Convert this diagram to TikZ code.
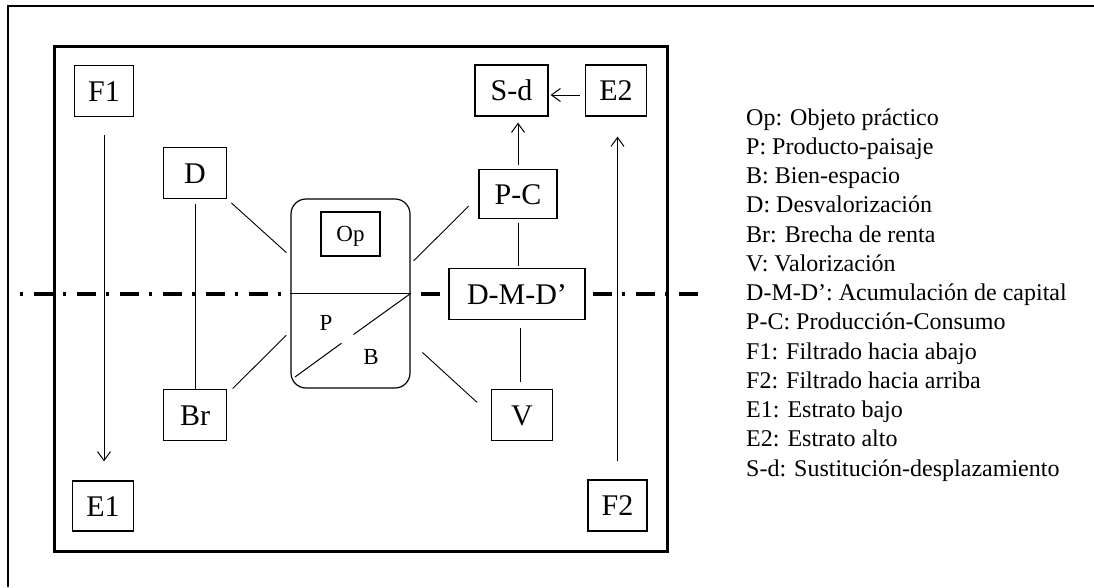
\documentclass[tikz,border=0pt]{standalone}
\usepackage{fontspec}
\setmainfont{Liberation Serif}
\usetikzlibrary{arrows.meta,calc}
\begin{document}
\begin{tikzpicture}[x=1pt,y=-1pt,
  boxline/.style={draw,line width=1.2pt,fill=white,inner sep=0pt},
  big/.style={boxline,text height=20pt,text depth=0pt,font=\fontsize{30}{30}\selectfont},
  smalltxt/.style={inner sep=0pt,text height=15pt,text depth=0pt,font=\fontsize{23}{23}\selectfont},
  conn/.style={line width=1pt},
  arr/.style={conn,-{Straight Barb[length=9pt,width=13pt,line width=1pt]}},
  diag/.style={line width=0.9pt},
  legend/.style={anchor=base west,inner sep=0pt,font=\fontsize{24}{24}\selectfont},
  frame/.style={line width=3pt},
  axis/.style={line width=4pt,dash pattern=on 3pt off 11pt on 19pt off 10pt}
]
\useasboundingbox (0,0) rectangle (1094,587);
\fill[white] (0,0) rectangle (1094,587);
% outer frame (extends beyond the picture)
\draw[line width=2pt] (8,587) -- (8,6) -- (1094,6);
% inner frame
\draw[frame] (54,46) rectangle (667,551);
% dash-dot axis
\coordinate (axL) at (20,293.5);
\coordinate (axR) at (698,293.5);
\draw[axis] (axL) -- (axR);

% nodes
\node[big,minimum width=59pt,minimum height=51pt] (F1) at (104,91) {F1};
\node[big,minimum width=61pt,minimum height=50pt] (E1) at (103,506) {E1};
\node[big,minimum width=63pt,minimum height=51pt] (D) at (195,173) {D};
\node[big,minimum width=63pt,minimum height=51pt] (Br) at (195,415) {Br};
\node[boxline,rounded corners=15pt,minimum width=119pt,minimum height=189pt] (obj) at (350.5,293.5) {};
\node[boxline,text height=15pt,text depth=0pt,font=\fontsize{23}{23}\selectfont,minimum width=59pt,minimum height=44pt] (Op) at (350.5,234) {Op};
\node[smalltxt] (P) at (326,323) {P};
\node[smalltxt] (B) at (371,357) {B};
\node[big,minimum width=78pt,minimum height=49pt] (PC) at (518,194) {P-C};
\node[big,minimum width=73pt,minimum height=51pt] (Sd) at (511.5,90.5) {S-d};
\node[big,minimum width=61pt,minimum height=51pt] (E2) at (616,90.5) {E2};
\node[big,minimum width=136pt,minimum height=51pt] (DMD) at (517,294) {D-M-D’};
\node[big,minimum width=61pt,minimum height=51pt] (V) at (522,415) {V};
\node[big,minimum width=59pt,minimum height=51pt] (F2) at (617.5,505.5) {F2};

% inside the object box
\draw[conn] (obj.west) -- (obj.east);
\coordinate (g1) at (353.5,334.5);
\coordinate (g2) at (341.5,343.2);
\coordinate (dEnd) at (295,377);
\draw[conn] (obj.east) -- (g1);
\draw[conn] (g2) -- (dEnd);

% connectors
\draw[arr,shorten <=18pt,shorten >=19pt] (F1.south) -- (F1.south |- E1.north);
\draw[arr,shorten <=18pt,shorten >=20pt] (F2.north) -- (F2.north |- E2.south);
\draw[arr,shorten <=5pt,shorten >=2pt] ([yshift=-4.5pt]E2.west) -- ([yshift=-4.5pt]Sd.east);
\draw[arr,shorten <=4pt,shorten >=6pt] (PC.north) -- (PC.north |- Sd.south);
\draw[conn,shorten <=3.5pt,shorten >=1.5pt] (PC.south) -- (PC.south |- DMD.north);
\draw[conn,shorten <=6.5pt,shorten >=7.5pt] ([xshift=-2pt]V.north) -- ([xshift=-2pt]V.north |- DMD.south);
\draw[conn,shorten <=4.5pt] (D.south) -- (Br.north);

\draw[diag,shorten <=5.7pt,shorten >=5.3pt] (D.south east) -- ($(obj.north west)!0.304!(obj.south west)$);
\draw[diag,shorten <=7.8pt,shorten >=5.7pt] ($(Br.north east)!0.1!(Br.south east)$) -- ($(obj.north west)!0.698!(obj.south west)$);
\draw[diag,shorten <=4.2pt,shorten >=13.8pt] ($(obj.north east)!0.344!(obj.south east)$) -- ($(PC.north west)!0.55!(PC.south west)$);
\draw[diag,shorten <=16pt,shorten >=18.7pt] ($(obj.north east)!0.753!(obj.south east)$) -- (V.west);

% legend
\foreach \t [count=\i from 0] in {Op: Objeto práctico,P: Producto-paisaje,B: Bien-espacio,D: Desvalorización,Br: Brecha de renta,V: Valorización,D-M-D’: Acumulación de capital,P-C: Producción-Consumo,F1: Filtrado hacia abajo,F2: Filtrado hacia arriba,E1: Estrato bajo,E2: Estrato alto,S-d: Sustitución-desplazamiento}
  \node[legend] (leg\i) at (746,125+29.25*\i) {\t};
\end{tikzpicture}
\end{document}
